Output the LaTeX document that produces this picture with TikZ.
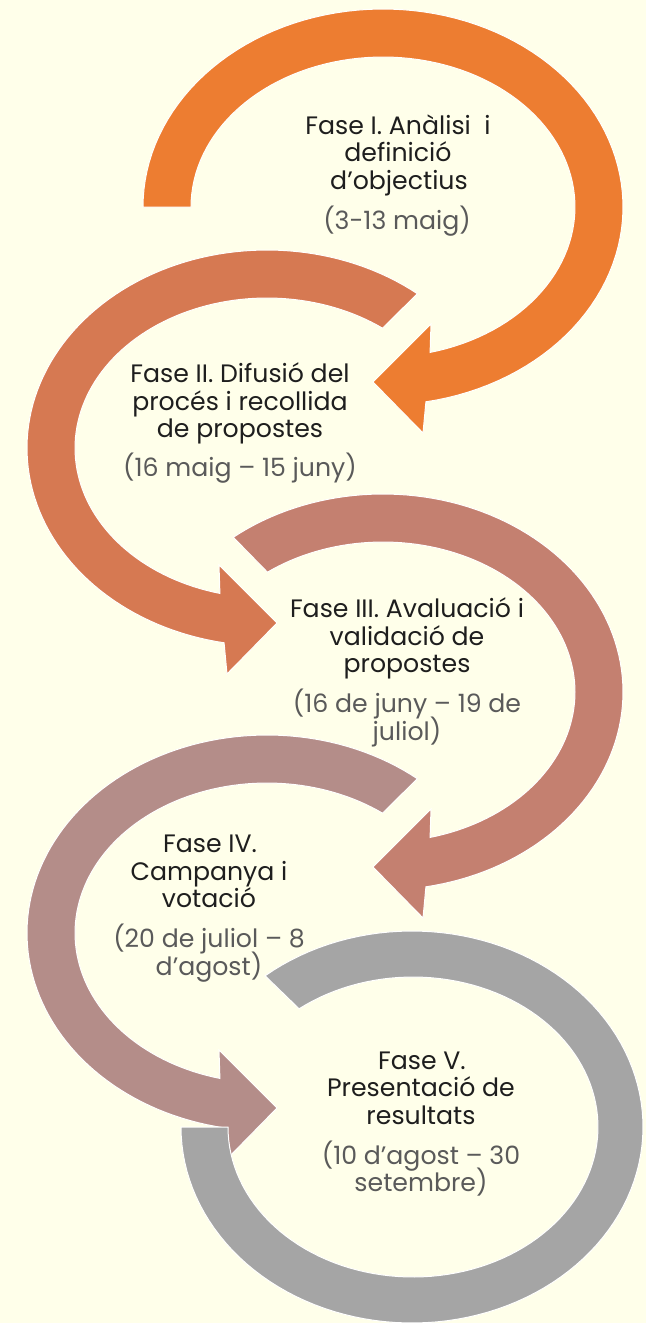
\documentclass[tikz,border=0pt]{standalone}
\usepackage{fontspec}
\setmainfont{Poppins}
\definecolor{bgcol}{RGB}{255,255,234}
\definecolor{arA}{RGB}{237,125,49}
\definecolor{arB}{RGB}{214,121,82}
\definecolor{arC}{RGB}{196,128,112}
\definecolor{arD}{RGB}{180,141,137}
\definecolor{arE}{RGB}{165,165,165}
\definecolor{titlecol}{RGB}{30,30,30}
\definecolor{datecol}{RGB}{90,90,90}
\begin{document}
\begin{tikzpicture}[x=0.5pt,y=-0.5pt,
  band/.style={draw=white, line width=0.5pt, line join=miter},
  titletext/.style={anchor=base, inner sep=0pt, text=titlecol, font=\fontsize{12.6pt}{13.7pt}\selectfont},
  datetext/.style={anchor=base, inner sep=0pt, text=datecol, font=\fontsize{12.6pt}{13.7pt}\selectfont}]
\useasboundingbox (0,0) rectangle (646,1323);
\fill[bgcol] (0,0) rectangle (646,1323);
% arrow 1
\path[band, fill=arA] plot[domain=180:439.7, samples=100] ({383+240*cos(\x)},{207+198*sin(\x)})
  -- (423,433) -- (373,382) -- (431,324)
  -- plot[domain=435.8:180, samples=100] ({383+192*cos(\x)},{207+150*sin(\x)}) -- cycle;
% arrow 2
\path[band, fill=arB] plot[domain=-51.2:-259.7, samples=100] ({267+240*cos(\x)},{448+198*sin(\x)})
  -- (227,674) -- (277,623) -- (219,565)
  -- plot[domain=-255.8:-53, samples=100] ({267+192*cos(\x)},{448+150*sin(\x)}) -- cycle;
% arrow 3
\path[band, fill=arC] plot[domain=231.4:439.7, samples=100] ({383+240*cos(\x)},{692+198*sin(\x)})
  -- (423,918) -- (373,867) -- (431,809)
  -- plot[domain=435.8:233, samples=100] ({383+192*cos(\x)},{692+150*sin(\x)}) -- cycle;
% arrow 4
\path[band, fill=arD] plot[domain=-51.2:-259.7, samples=100] ({267+240*cos(\x)},{933+198*sin(\x)})
  -- (227,1159) -- (277,1108) -- (219,1050)
  -- plot[domain=-255.8:-53, samples=100] ({267+192*cos(\x)},{933+150*sin(\x)}) -- cycle;
% arrow 5
\path[band, fill=arE] plot[domain=230.5:540, samples=120] ({412+231*cos(\x)},{1127+196*sin(\x)})
  -- plot[domain=540:232, samples=120] ({413+185*cos(\x)},{1127+150*sin(\x)}) -- cycle;
% texts
\node[titletext] (t1a) at (398,134.3) {Fase I. Anàlisi\ \ i};
\node[titletext] (t1b) at (398,161.7) {definició};
\node[titletext] (t1c) at (399,189.3) {d’objectius};
\node[datetext] (d1a) at (397,229.3) {(3-13 maig)};
\node[titletext] (t2a) at (240,382.7) {Fase II. Difusió del};
\node[titletext] (t2b) at (240,410) {procés i recollida};
\node[titletext] (t2c) at (240,437.3) {de propostes};
\node[datetext] (d2a) at (240,476.7) {(16 maig – 15 juny)};
\node[titletext] (t3a) at (407,617.7) {Fase III. Avaluació i};
\node[titletext] (t3b) at (407,645) {validació de};
\node[titletext] (t3c) at (407,672.7) {propostes};
\node[datetext] (d3a) at (407,712.7) {(16 de juny – 19 de};
\node[datetext] (d3b) at (407,740) {juliol)};
\node[titletext] (t4a) at (210,852.7) {Fase IV.};
\node[titletext] (t4b) at (209,880) {Campanya i};
\node[titletext] (t4c) at (209,907.7) {votació};
\node[datetext] (d4a) at (209,947.3) {(20 de juliol – 8};
\node[datetext] (d4b) at (209,975) {d’agost)};
\node[titletext] (t5a) at (422,1069.3) {Fase V.};
\node[titletext] (t5b) at (421,1096.7) {Presentació de};
\node[titletext] (t5c) at (421,1124) {resultats};
\node[datetext] (d5a) at (421,1164) {(10 d’agost – 30};
\node[datetext] (d5b) at (421,1191.7) {setembre)};
\end{tikzpicture}
\end{document}
